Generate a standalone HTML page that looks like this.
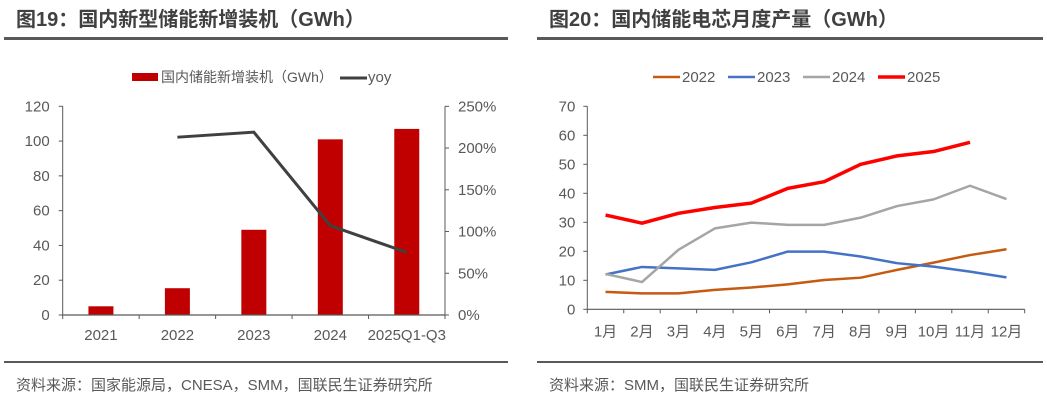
<!DOCTYPE html>
<html><head><meta charset="utf-8"><style>
body{margin:0;background:#fff;width:1047px;height:404px;overflow:hidden;font-family:"Liberation Sans","Noto Sans CJK SC",sans-serif}
svg{display:block}
</style></head><body>
<svg id="s" width="1047" height="404" font-family="Liberation Sans, Noto Sans CJK SC, sans-serif">
<text x="16" y="26" font-size="20" font-weight="bold" fill="#404040">图19：国内新型储能新增装机（GWh）</text>
<rect x="4" y="37" width="504" height="3" fill="#595959"/>
<rect x="4" y="361" width="504" height="2" fill="#595959"/>
<text x="16" y="390" font-size="15" fill="#595959">资料来源：国家能源局，CNESA，SMM，国联民生证券研究所</text>
<text x="549" y="26" font-size="20" font-weight="bold" fill="#404040">图20：国内储能电芯月度产量（GWh）</text>
<rect x="537" y="37" width="506" height="3" fill="#595959"/>
<rect x="537" y="361" width="506" height="2" fill="#595959"/>
<text x="549" y="390" font-size="15" fill="#595959">资料来源：SMM，国联民生证券研究所</text>
<g id="left"></g><g id="right"></g>
</svg>
<script>
const NS='http://www.w3.org/2000/svg';
function mk(p,t,a,txt){const e=document.createElementNS(NS,t);for(const k in a)e.setAttribute(k,a[k]);if(txt!=null)e.textContent=txt;p.appendChild(e);return e;}
// Left chart data
const barCats=['2021','2022','2023','2024','2025Q1-Q3'];
const barVals=[5,15.4,49,101,107];
const yoyVals=[null,213,219,107,75];
const leftTicks=[0,20,40,60,80,100,120];
const rightTicks=['0%','50%','100%','150%','200%','250%'];
// Right chart data
const months=['1月','2月','3月','4月','5月','6月','7月','8月','9月','10月','11月','12月'];
const s2022=[6.0,5.5,5.5,6.7,7.5,8.6,10.1,10.9,13.6,16.1,18.7,20.7];
const s2023=[12.0,14.6,14.1,13.6,16.2,19.9,19.9,18.2,15.9,14.7,13.0,11.0];
const s2024=[12.2,9.4,20.5,27.9,29.9,29.1,29.1,31.6,35.6,37.9,42.6,38.0];
const s2025=[32.5,29.7,33.1,35.1,36.6,41.7,44.0,50.0,52.9,54.4,57.6];
const yTicksR=[0,10,20,30,40,50,60,70];

(function(){
const g=document.getElementById('left');
const x0=62.7,x1=445,yB=315,yT=106.3;
const cw=(x1-x0)/barCats.length;
const y=v=>yB-(v/120)*(yB-yT);
const y2=v=>yB-(v/250)*(yB-yT);
const cx=i=>x0+cw*(i+0.5);
mk(g,'line',{x1:x0,y1:yT,x2:x0,y2:yB,stroke:'#595959','stroke-width':1});
mk(g,'line',{x1:x1,y1:yT,x2:x1,y2:yB,stroke:'#595959','stroke-width':1});
leftTicks.forEach(t=>{mk(g,'line',{x1:x0-4,y1:y(t),x2:x0,y2:y(t),stroke:'#595959'});
const e=mk(g,'text',{x:x0-13,y:y(t)+5,'font-size':15,fill:'#595959','text-anchor':'end'},t);
});
rightTicks.forEach((t,i)=>{const v=i*50;mk(g,'line',{x1:x1,y1:y2(v),x2:x1+4,y2:y2(v),stroke:'#595959'});
const e=mk(g,'text',{x:x1+13,y:y2(v)+5,'font-size':15,fill:'#595959'},t);
});
barCats.forEach((c,i)=>{
const r=mk(g,'rect',{x:cx(i)-12.5,y:y(barVals[i]),width:25,height:yB-y(barVals[i]),fill:'#C00000'});

const t=mk(g,'text',{x:cx(i),y:yB+25,'font-size':15,fill:'#595959','text-anchor':'middle'},c);

});
for(let i=0;i<=barCats.length;i++)mk(g,'line',{x1:x0+cw*i,y1:yB,x2:x0+cw*i,y2:yB+4,stroke:'#595959'});
mk(g,'line',{x1:x0,y1:yB,x2:x1,y2:yB,stroke:'#595959','stroke-width':1.2});
const pts=yoyVals.map((v,i)=>v==null?null:cx(i)+','+y2(v)).filter(p=>p);
const pl=mk(g,'polyline',{points:pts.join(' '),fill:'none',stroke:'#404040','stroke-width':3});

const l1=mk(g,'rect',{x:132,y:73,width:26,height:8,fill:'#C00000'});

const lt=mk(g,'text',{x:161,y:82,'font-size':14,fill:'#595959'},'国内储能新增装机（GWh）');

mk(g,'line',{x1:340,y1:78,x2:367,y2:78,stroke:'#404040','stroke-width':3});
const l2=mk(g,'text',{x:368,y:82,'font-size':15,fill:'#595959'},'yoy');

})();

(function(){
const g=document.getElementById('right');
const x0=587.3,x1=1024.7,yB=309.3,yT=106.3;
const cw=(x1-x0)/months.length;
const y=v=>yB-(v/70)*(yB-yT);
const cx=i=>x0+cw*(i+0.5);
mk(g,'line',{x1:x0,y1:yT,x2:x0,y2:yB,stroke:'#595959'});
yTicksR.forEach(t=>{mk(g,'line',{x1:x0-4,y1:y(t),x2:x0,y2:y(t),stroke:'#595959'});
const e=mk(g,'text',{x:x0-12,y:y(t)+5,'font-size':15,fill:'#595959','text-anchor':'end'},t);
});
mk(g,'line',{x1:x0,y1:yB,x2:x1,y2:yB,stroke:'#595959','stroke-width':1.2});
months.forEach((m,i)=>{
const t=mk(g,'text',{x:cx(i),y:yB+27,'font-size':15,fill:'#595959','text-anchor':'middle'},m);
});
for(let i=0;i<=months.length;i++)mk(g,'line',{x1:x0+cw*i,y1:yB,x2:x0+cw*i,y2:yB+4,stroke:'#595959'});
const series=[['2022',s2022,'#C55A11',2.5],['2023',s2023,'#4472C4',2.5],['2024',s2024,'#A5A5A5',2.5],['2025',s2025,'#FF0000',3.5]];
const lx=[653,728,803,878];
series.forEach((s,k)=>{
const pl=mk(g,'polyline',{points:s[1].map((v,i)=>cx(i)+','+y(v)).join(' '),fill:'none',stroke:s[2],'stroke-width':s[3],'stroke-linejoin':'round'});

mk(g,'line',{x1:lx[k],y1:77,x2:lx[k]+27,y2:77,stroke:s[2],'stroke-width':s[3]});
const t=mk(g,'text',{x:lx[k]+29,y:82,'font-size':15,fill:'#595959'},s[0]);

});
})();
</script>
</body></html>
